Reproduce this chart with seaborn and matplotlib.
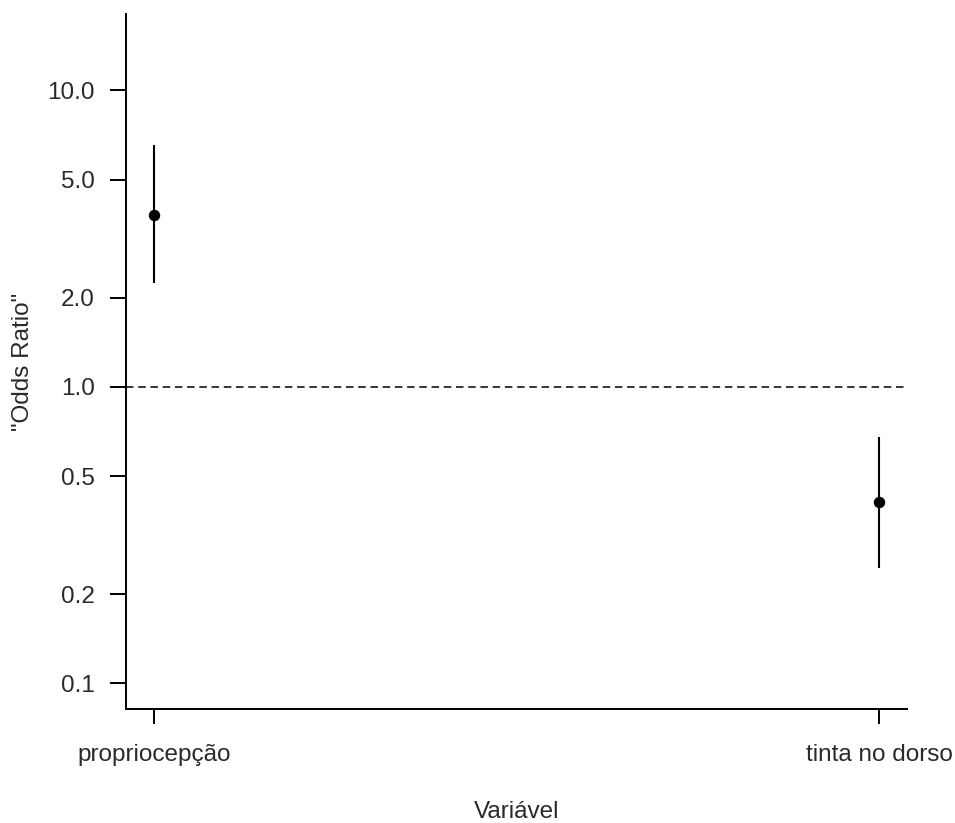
import matplotlib
matplotlib.use("Agg")
import matplotlib.pyplot as plt
import seaborn as sns
import pandas as pd

categories = ["propriocepção", "tinta no dorso"]
odds_ratio = [3.80, 0.409]
ci_lower = [2.24, 0.245]
ci_upper = [6.55, 0.678]
y_ticks = [0.1, 0.2, 0.5, 1.0, 2.0, 5.0, 10.0]
y_tick_labels = ["0.1", "0.2", "0.5", "1.0", "2.0", "5.0", "10.0"]

sns.set_style("ticks")
plt.rcParams["font.family"] = ["Liberation Sans", "DejaVu Sans"]
plt.rcParams["lines.scale_dashes"] = False

df = pd.DataFrame({"Variável": categories, "OR": odds_ratio,
                   "lo": ci_lower, "hi": ci_upper})

fig = plt.figure(figsize=(9.55, 8.23), dpi=100)
ax = fig.add_axes([126/955, 1-709/823, (907-126)/955, (709-14)/823])

ax.set_yscale("log")
ax.vlines(x=range(len(categories)), ymin=df["lo"], ymax=df["hi"],
          color="black", linewidth=1.5, zorder=2)
sns.scatterplot(data=df, x="Variável", y="OR", ax=ax, color="black",
                s=68, edgecolor="black", linewidth=0, zorder=3)
ax.axhline(1.0, color="black", linewidth=1.1, linestyle=(0, (5.4, 3.4)), zorder=1)

ax.set_xlim(-0.0386, 1.0386)
ax.set_ylim(0.082, 18.1)
ax.set_yticks(y_ticks)
ax.set_yticklabels(y_tick_labels)
ax.yaxis.set_minor_locator(matplotlib.ticker.NullLocator())

for s in ["top", "right"]:
    ax.spines[s].set_visible(False)
for s in ["left", "bottom"]:
    ax.spines[s].set_linewidth(1.4)
    ax.spines[s].set_color("black")

fs = 17.5
tc = "#2a2a2a"
ax.tick_params(axis="y", length=11.5, width=1.4, pad=11, labelsize=fs,
               labelcolor=tc, color="black")
ax.tick_params(axis="x", length=11, width=1.4, pad=14, labelsize=fs,
               labelcolor=tc, color="black")

ax.set_xlabel("Variável", fontsize=fs, color=tc)
ax.set_ylabel('"Odds Ratio"', fontsize=fs, color=tc)
ax.xaxis.label.set_verticalalignment("center")
ax.yaxis.label.set_verticalalignment("center")
ax.xaxis.set_label_coords(0.5, -(812-709)/695)
ax.yaxis.set_label_coords(-(126-23)/781, (709-362)/695)

fig.savefig("out.png", dpi=100, facecolor="white")
